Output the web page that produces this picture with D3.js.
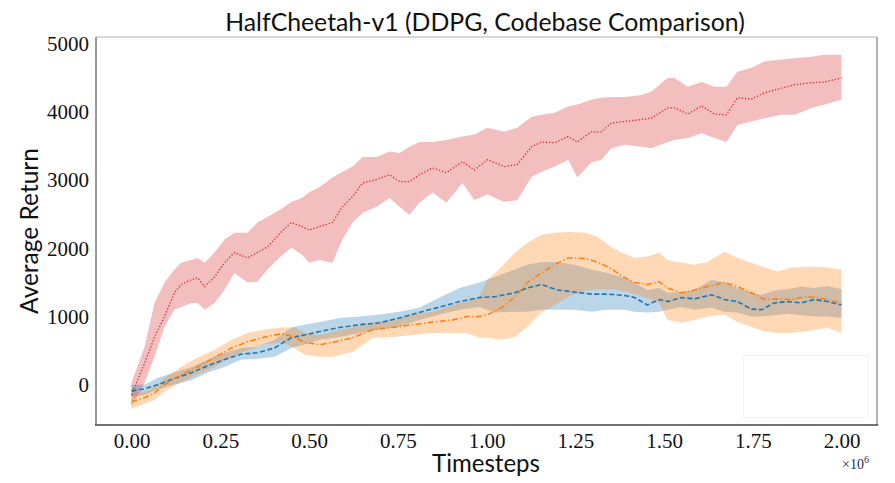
<!DOCTYPE html>
<html>
<head>
<meta charset="utf-8">
<script src="https://cdn.jsdelivr.net/npm/d3@7"></script>
<style>
  html, body { margin: 0; padding: 0; background: #fff; }
  svg { display: block; }
</style>
</head>
<body>
<svg id="chart" width="895" height="483"></svg>
<script>
// ---------------- DATA (timesteps in millions) ----------------
const chartTitle = "HalfCheetah-v1 (DDPG, Codebase Comparison)";
const xLabel = "Timesteps";
const yLabel = "Average Return";
const xTicks = [0, 0.25, 0.5, 0.75, 1.0, 1.25, 1.5, 1.75, 2.0];
const yTicks = [0, 1000, 2000, 3000, 4000, 5000];

const redSteps = [0, 0.037, 0.065, 0.093, 0.121, 0.14, 0.168, 0.186, 0.206, 0.234, 0.262, 0.29, 0.327, 0.355, 0.383, 0.42, 0.45, 0.48, 0.5, 0.53, 0.566, 0.594, 0.623, 0.651, 0.69, 0.727, 0.755, 0.783, 0.811, 0.848, 0.887, 0.932, 0.966, 1.003, 1.05, 1.087, 1.127, 1.155, 1.192, 1.23, 1.256, 1.295, 1.324, 1.352, 1.389, 1.437, 1.465, 1.51, 1.53, 1.567, 1.606, 1.642, 1.676, 1.707, 1.746, 1.783, 1.831, 1.868, 1.916, 1.952, 2.0];
const redMean  = [-150, 320, 700, 1000, 1350, 1470, 1540, 1570, 1440, 1580, 1790, 1940, 1860, 1940, 2020, 2230, 2380, 2320, 2270, 2320, 2380, 2610, 2760, 2960, 3010, 3080, 2980, 2980, 3080, 3180, 3110, 3270, 3150, 3300, 3200, 3230, 3490, 3560, 3550, 3640, 3560, 3710, 3710, 3840, 3860, 3890, 3910, 4060, 4060, 3970, 4090, 3970, 3960, 4210, 4190, 4280, 4350, 4400, 4430, 4440, 4500];
const redLow   = [-320, 30, 410, 850, 1100, 1140, 1200, 1200, 1100, 1200, 1390, 1640, 1500, 1510, 1690, 1880, 2010, 1910, 1790, 1830, 1790, 2130, 2380, 2520, 2610, 2740, 2610, 2490, 2670, 2820, 2670, 2960, 2710, 2790, 2680, 2710, 3050, 3120, 3200, 3300, 3040, 3260, 3300, 3470, 3520, 3490, 3470, 3560, 3590, 3620, 3690, 3620, 3560, 3810, 3860, 3910, 3960, 3960, 4060, 4110, 4180];
const redHigh  = [30, 560, 1200, 1500, 1690, 1790, 1830, 1860, 1790, 1940, 2130, 2230, 2230, 2380, 2460, 2570, 2680, 2740, 2820, 2900, 3040, 3120, 3200, 3340, 3340, 3420, 3400, 3490, 3560, 3560, 3590, 3640, 3670, 3770, 3710, 3770, 3930, 3960, 3990, 4080, 4110, 4180, 4210, 4220, 4220, 4250, 4300, 4500, 4500, 4370, 4440, 4370, 4370, 4590, 4650, 4740, 4770, 4790, 4810, 4840, 4840];

const blueSteps = [0, 0.037, 0.073, 0.12, 0.17, 0.215, 0.262, 0.31, 0.355, 0.403, 0.45, 0.487, 0.53, 0.586, 0.642, 0.7, 0.755, 0.81, 0.868, 0.924, 0.98, 1.023, 1.08, 1.115, 1.155, 1.2, 1.248, 1.295, 1.34, 1.389, 1.417, 1.453, 1.487, 1.51, 1.55, 1.586, 1.634, 1.67, 1.707, 1.746, 1.775, 1.81, 1.848, 1.887, 1.924, 1.96, 2.0];
const blueMean  = [-90, -60, 0, 90, 180, 280, 370, 450, 470, 540, 690, 730, 780, 840, 880, 910, 980, 1060, 1140, 1220, 1280, 1290, 1350, 1420, 1470, 1390, 1360, 1330, 1330, 1310, 1280, 1170, 1250, 1220, 1280, 1260, 1320, 1250, 1220, 1110, 1100, 1200, 1220, 1200, 1250, 1220, 1170];
const blueLow   = [-180, -150, -70, 0, 70, 180, 260, 370, 380, 410, 540, 590, 660, 700, 760, 810, 850, 950, 1030, 1100, 1140, 1060, 1070, 1070, 1100, 1100, 1100, 1070, 1100, 1100, 1070, 1060, 1070, 1100, 1140, 1100, 1130, 1070, 1060, 1000, 1000, 1020, 1040, 1020, 1000, 1000, 980];
const blueHigh  = [0, 0, 100, 180, 260, 370, 470, 540, 560, 660, 840, 880, 920, 980, 1000, 1030, 1070, 1130, 1280, 1420, 1500, 1580, 1690, 1760, 1800, 1800, 1760, 1690, 1640, 1570, 1500, 1390, 1420, 1350, 1360, 1390, 1540, 1500, 1420, 1350, 1320, 1380, 1400, 1440, 1420, 1450, 1400];

const orangeSteps = [0, 0.037, 0.065, 0.093, 0.14, 0.186, 0.234, 0.282, 0.327, 0.375, 0.423, 0.46, 0.487, 0.53, 0.566, 0.623, 0.68, 0.735, 0.79, 0.848, 0.904, 0.944, 0.98, 1.003, 1.043, 1.08, 1.115, 1.155, 1.192, 1.23, 1.278, 1.313, 1.352, 1.38, 1.417, 1.453, 1.487, 1.51, 1.55, 1.586, 1.623, 1.67, 1.707, 1.746, 1.783, 1.82, 1.86, 1.896, 1.932, 1.96, 2.0];
const orangeMean  = [-250, -190, -120, 0, 150, 260, 400, 540, 630, 700, 750, 700, 620, 590, 620, 690, 810, 840, 880, 920, 950, 1000, 1000, 1030, 1130, 1290, 1500, 1640, 1760, 1860, 1850, 1800, 1700, 1600, 1500, 1470, 1510, 1420, 1350, 1390, 1440, 1500, 1440, 1350, 1250, 1260, 1250, 1290, 1280, 1250, 1200];
const orangeLow   = [-350, -280, -220, -100, 40, 150, 260, 410, 510, 590, 630, 540, 440, 410, 410, 480, 690, 700, 730, 760, 760, 760, 690, 690, 660, 700, 850, 1060, 1170, 1290, 1380, 1400, 1400, 1380, 1330, 1270, 1200, 950, 910, 950, 1000, 1030, 920, 850, 780, 760, 760, 780, 810, 840, 760];
const orangeHigh  = [-120, -100, -30, 100, 260, 400, 510, 660, 760, 810, 840, 840, 760, 730, 780, 840, 910, 950, 1030, 1070, 1170, 1220, 1290, 1540, 1730, 1940, 2080, 2200, 2230, 2240, 2230, 2170, 2020, 1940, 1860, 1880, 1940, 1830, 1790, 1760, 1800, 1950, 1860, 1790, 1720, 1660, 1720, 1730, 1730, 1720, 1690];

// ---------------- LAYOUT ----------------
const svg = d3.select("#chart");
const plot = { left: 96, right: 877, top: 37, bottom: 425 };

const x = d3.scaleLinear().domain([-0.1, 2.1]).range([plot.left, plot.right]);
const y = d3.scaleLinear().domain([-590, 5100]).range([plot.bottom, plot.top]);

const series = [
  { name: "red", steps: redSteps, mean: redMean, low: redLow, high: redHigh,
    line: "#d62728", fill: "#d62728", dash: "1.3,1.9", width: 1.3 },
  { name: "blue", steps: blueSteps, mean: blueMean, low: blueLow, high: blueHigh,
    line: "#1f77b4", fill: "#1f77b4", dash: "5,2.5", width: 1.6 },
  { name: "orange", steps: orangeSteps, mean: orangeMean, low: orangeLow, high: orangeHigh,
    line: "#ff7f0e", fill: "#ff7f0e", dash: "6,2.4,1.4,2.4", width: 1.5 }
];

svg.append("defs").append("clipPath").attr("id", "clip")
  .append("rect").attr("x", plot.left).attr("y", plot.top)
  .attr("width", plot.right - plot.left).attr("height", plot.bottom - plot.top);

const g = svg.append("g").attr("clip-path", "url(#clip)");

const area = d3.area().x(d => x(d.t)).y0(d => y(d.lo)).y1(d => y(d.hi));
const line = d3.line().x(d => x(d.t)).y(d => y(d.m));

series.forEach(s => {
  const pts = s.steps.map((t, i) => ({ t, m: s.mean[i], lo: s.low[i], hi: s.high[i] }));
  g.append("path").datum(pts).attr("d", area)
    .attr("fill", s.fill).attr("fill-opacity", 0.3).attr("stroke", "none");
  s.pts = pts;
});
series.forEach(s => {
  g.append("path").datum(s.pts).attr("d", line)
    .attr("fill", "none").attr("stroke", s.line)
    .attr("stroke-width", s.width).attr("stroke-dasharray", s.dash);
});

// empty legend frame (barely visible)
svg.append("rect").attr("x", 743.5).attr("y", 355.5).attr("width", 125).attr("height", 62)
  .attr("fill", "#fff").attr("fill-opacity", 0.8).attr("stroke", "#f0f0f0").attr("stroke-width", 0.8);

// spines
svg.append("line").attr("x1", plot.left).attr("x2", plot.right).attr("y1", plot.top).attr("y2", plot.top)
  .attr("stroke", "#b0b0b0").attr("stroke-width", 1.2);
svg.append("line").attr("x1", plot.right).attr("x2", plot.right).attr("y1", plot.top).attr("y2", plot.bottom)
  .attr("stroke", "#9a9a9a").attr("stroke-width", 1.5);
svg.append("line").attr("x1", plot.left).attr("x2", plot.left).attr("y1", plot.top).attr("y2", plot.bottom)
  .attr("stroke", "#9a9a9a").attr("stroke-width", 2);
svg.append("line").attr("x1", plot.left - 1).attr("x2", plot.right + 1).attr("y1", plot.bottom).attr("y2", plot.bottom)
  .attr("stroke", "#444").attr("stroke-width", 1.6);

// axes
const serif = "'Liberation Serif', 'Times New Roman', serif";
const xAxis = svg.append("g").attr("transform", `translate(0,${plot.bottom})`)
  .call(d3.axisBottom(x).tickValues(xTicks).tickFormat(d3.format(".2f")).tickSize(0).tickPadding(8));
xAxis.select(".domain").remove();
xAxis.selectAll("text").attr("font-family", serif).attr("font-size", 21).attr("fill", "#111");

const yAxis = svg.append("g").attr("transform", `translate(${plot.left},0)`)
  .call(d3.axisLeft(y).tickValues(yTicks).tickFormat(d3.format("d")).tickSize(0).tickPadding(7));
yAxis.select(".domain").remove();
yAxis.selectAll("text").attr("font-family", serif).attr("font-size", 21).attr("fill", "#111");

// x1e6 multiplier
const mult = svg.append("text").attr("x", 842).attr("y", 469)
  .attr("font-family", serif).attr("font-size", 14).attr("fill", "#2a2a4a");
mult.append("tspan").text("×10");
mult.append("tspan").attr("dy", -6).attr("font-size", 10).text("6");

// labels
const sans = "Lato, 'Open Sans', sans-serif";
function fit(sel, target) {
  const w = sel.node().getComputedTextLength();
  sel.attr("font-size", parseFloat(sel.attr("font-size")) * target / w);
}
const title = svg.append("text").attr("x", 485).attr("y", 31).attr("text-anchor", "middle")
  .attr("font-family", sans).attr("font-size", 24).attr("fill", "#111").text(chartTitle);
fit(title, 520);

const xl = svg.append("text").attr("x", 486).attr("y", 472).attr("text-anchor", "middle")
  .attr("font-family", sans).attr("font-size", 24).attr("fill", "#111").text(xLabel);
fit(xl, 108);

const yl = svg.append("text").attr("transform", "translate(38,231) rotate(-90)").attr("text-anchor", "middle")
  .attr("font-family", sans).attr("font-size", 26).attr("fill", "#111").text(yLabel);
fit(yl, 166);
</script>
</body>
</html>
